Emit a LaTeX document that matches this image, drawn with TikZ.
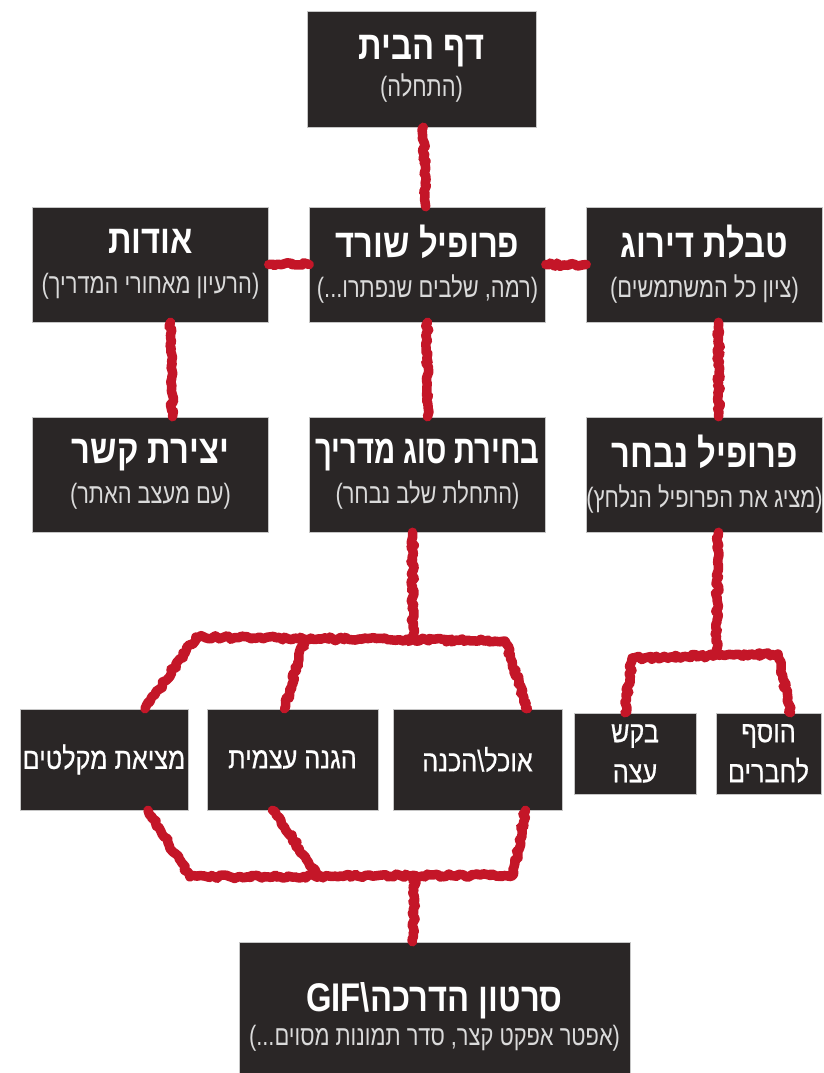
\documentclass[tikz,border=0pt]{standalone}
\usepackage{fontspec}
\usetikzlibrary{decorations.pathmorphing}
\TeXXeTstate=1
\newfontfamily\hebtitle[Script=Hebrew,FakeStretch=0.82]{Liberation Sans}
\newfontfamily\hebnarrow[Script=Hebrew,FakeStretch=0.73]{Liberation Sans}
\newfontfamily\hebsub[Script=Hebrew,FakeStretch=0.78]{Liberation Sans}
\newfontfamily\heblabel[Script=Hebrew,FakeStretch=0.84,FakeBold=0.6]{Liberation Sans}
\definecolor{cardgray}{RGB}{42,38,38}
\definecolor{ropered}{RGB}{196,22,40}
\definecolor{subgray}{RGB}{218,218,218}
\newcommand\ttline[1]{{\hebtitle\bfseries\fontsize{40}{40}\selectfont\beginR #1\endR}}
\newcommand\narrowline[1]{{\hebnarrow\bfseries\fontsize{40}{40}\selectfont\beginR #1\endR}}
\newcommand\subline[1]{{\color{subgray}\hebsub\fontsize{28}{40}\selectfont\beginR #1\endR}}
\newcommand\lbline[1]{{\heblabel\fontsize{30}{40}\selectfont\beginR #1\endR}}
\tikzset{
  card/.style={fill=cardgray, draw=gray!45, line width=0.6pt, text=white, align=center, inner sep=0pt,
    font=\fontsize{10}{40}\selectfont},
  bigcard/.style={card, minimum width=236pt, minimum height=115pt},
  smallcard/.style={card, minimum height=101pt},
  rope/.style={draw=ropered, line width=9.5pt, line join=round, line cap=round, decorate,
    decoration={random steps, segment length=3pt, amplitude=1.8pt}}
}
\begin{document}
\begin{tikzpicture}[x=1pt,y=-1pt]
\useasboundingbox (0,0) rectangle (823,1073);
\fill[white] (0,0) rectangle (823,1073);
\node[bigcard, minimum width=229pt, minimum height=116pt] (home) at (421.5,69) {\ttline{דף הבית}\\[-3pt]\subline{(התחלה)}};
\node[bigcard] (about) at (150.5,264.5) {\ttline{אודות}\\\subline{(הרעיון מאחורי המדריך)}};
\node[bigcard] (profile) at (427.5,264.5) {\ttline{פרופיל שורד}\\\subline{(רמה, שלבים שנפתרו...)}};
\node[bigcard] (ranking) at (704.5,264.5) {\ttline{טבלת דירוג}\\\subline{(ציון כל המשתמשים)}};
\node[bigcard] (contact) at (150.5,474.5) {\ttline{יצירת קשר}\\\subline{(עם מעצב האתר)}};
\node[bigcard] (guide) at (427.5,474.5) {\narrowline{בחירת סוג מדריך}\\\subline{(התחלת שלב נבחר)}};
\node[bigcard] (chosen) at (704.5,474.5) {\ttline{פרופיל נבחר}\\\subline{(מציג את הפרופיל הנלחץ)}};
\node[smallcard, minimum width=168pt] (shelters) at (104,759.5) {\lbline{מציאת מקלטים}};
\node[smallcard, minimum width=171pt] (selfdef) at (292.5,759.5) {\lbline{הגנה עצמית}};
\node[smallcard, minimum width=169pt] (food) at (477.5,759.5) {\lbline{אוכל\textbackslash הכנה}};
\node[card, minimum width=122pt, minimum height=81pt] (advice) at (635,753.5) {\lbline{בקש}\\\lbline{עצה}};
\node[card, minimum width=105pt, minimum height=81pt] (friends) at (768.5,753.5) {\lbline{הוסף}\\\lbline{לחברים}};
\node[card, minimum width=391pt, minimum height=150pt] (gif) at (434.5,1017) {\ttline{סרטון הדרכה\textbackslash\beginL GIF\endL}\\[-6pt]\subline{(אפטר אפקט קצר, סדר תמונות מסוים...)}};
\coordinate (gJ) at (413,640);
\coordinate (gL) at (196,637);
\coordinate (gM) at (305,639);
\coordinate (gR) at (505,641);
\coordinate (cJ) at (716,655);
\coordinate (cL) at (632,658);
\coordinate (cR) at (778,654);
\coordinate (bL) at (190,877);
\coordinate (bM) at (318,875);
\coordinate (bR) at (513,875);
\coordinate (bJ) at (415,876);
\draw[rope] (home) -- (profile);
\draw[rope] (about) -- (profile);
\draw[rope] (profile) -- (ranking);
\draw[rope] ([xshift=20pt]about.south) -- ([xshift=22pt]contact.north);
\draw[rope] (profile) -- (guide);
\draw[rope] ([xshift=14pt]ranking.south) -- ([xshift=14pt]chosen.north);
\draw[rope] ([xshift=-15pt]guide.south) -- (gJ);
\draw[rope] ([xshift=41pt]shelters.north) -- (gL) -- (gR) -- ([xshift=50pt]food.north);
\draw[rope] (gM) -- ([xshift=-8pt]selfdef.north);
\draw[rope] ([xshift=14pt]chosen.south) -- (cJ);
\draw[rope] ([xshift=-10pt]advice.north) -- (cL) -- (cR) -- ([xshift=22pt]friends.north);
\draw[rope] ([xshift=44pt]shelters.south) -- (bL) -- (bR) -- ([xshift=48pt]food.south);
\draw[rope] ([xshift=-20pt]selfdef.south) -- (bM);
\draw[rope] (bJ) -- ([xshift=-22pt]gif.north);
\end{tikzpicture}
\end{document}
